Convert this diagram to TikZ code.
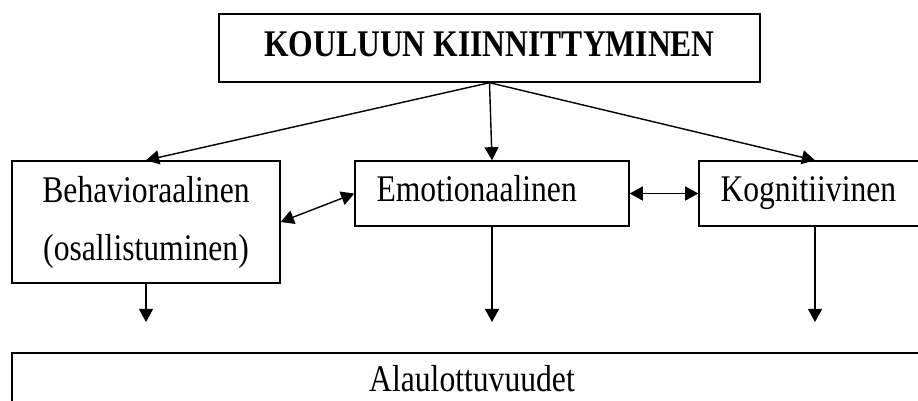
\documentclass[tikz,border=0pt]{standalone}
\usepackage{fontspec}
\setmainfont{Liberation Serif}
\usetikzlibrary{arrows.meta,positioning}

% letters are drawn a little taller than wide
\newcommand{\tallword}[1]{\scalebox{1}[1.19]{#1}}

\begin{document}
\begin{tikzpicture}[x=0.02cm, y=-0.02cm, >={Triangle[length=7.5pt,width=8pt]}]
  \tikzstyle{dim}=[draw, line width=0.8pt, align=center, font=\fontsize{18}{33}\selectfont]
  \tikzstyle{oneline}=[text height=14pt, text depth=4.5pt]
  \tikzstyle{flush}=[align=left, inner xsep=0.43cm, minimum height=1.3cm]
  \tikzstyle{link}=[line width=0.8pt]
  \clip (0,0) rectangle (918,400);

  \node[dim, oneline, minimum width=10.82cm, minimum height=1.36cm, font=\fontsize{18}{22}\selectfont\bfseries] (engage) at (489.5,48) {\tallword{KOULUUN KIINNITTYMINEN}};
  \node[dim, minimum width=5.36cm, minimum height=2.44cm] (behav) at (146,222) {\tallword{Behavioraalinen}\\\tallword{(osallistuminen)}};
  \node[dim, oneline, flush, text width=4.62cm] (emot) at (492,193.5) {\tallword{Emotionaalinen}};
  \node[dim, oneline, flush, text width=3.78cm] (kogn) at (815,193.5) {\tallword{Kognitiivinen}};
  \node[dim, oneline, line width=1.1pt, minimum width=18.4cm, minimum height=1.2cm] (sub) at (472,383) {\tallword{Alaulottuvuudet}};

  % loose arrow ends above the sub-dimension box
  \coordinate (behavend) at (146,322);
  \coordinate (emotend) at (492,322);
  \coordinate (kognend) at (815,322);

  \draw[->, link] (engage.south) -- (behav.north);
  \draw[->, link] (engage.south) -- (emot.north);
  \draw[->, link] (engage.south) -- (kogn.north);
  \draw[<->, link] (behav.east) -- (emot.west);
  \draw[<->, link] (emot.east) -- (kogn.west);
  \draw[->, link] (behav.south) -- (behavend);
  \draw[->, link] (emot.south) -- (emotend);
  \draw[->, link] (kogn.south) -- (kognend);
\end{tikzpicture}
\end{document}
